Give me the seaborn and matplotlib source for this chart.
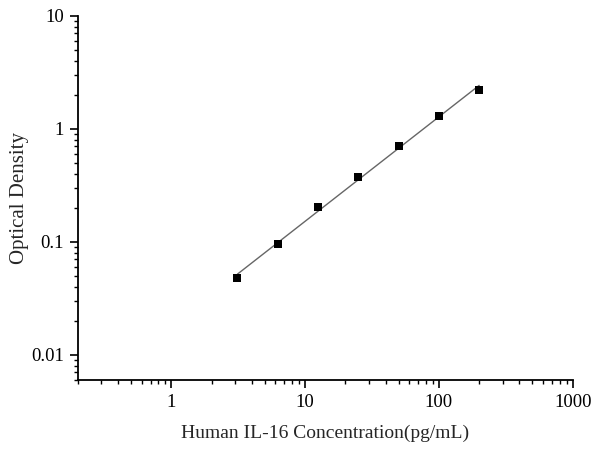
import numpy as np
import pandas as pd
import matplotlib
matplotlib.use("Agg")
import matplotlib.pyplot as plt
import seaborn as sns
from matplotlib.ticker import LogLocator, FixedLocator, FixedFormatter, NullFormatter

concentration = [3.125, 6.25, 12.5, 25, 50, 100, 200]
optical_density = [0.048, 0.095, 0.205, 0.373, 0.70, 1.30, 2.20]
x_ticks = [1, 10, 100, 1000]
x_tick_labels = ["1", "10", "100", "1000"]
y_ticks = [0.01, 0.1, 1, 10]
y_tick_labels = ["0.01", "0.1", "1", "10"]

sns.set_style("ticks")
plt.rcParams['font.family'] = ['Liberation Serif', 'DejaVu Serif']

df = pd.DataFrame({"conc": concentration, "od": optical_density})

fig = plt.figure(figsize=(6.0, 4.49), dpi=100)
ax = fig.add_axes([0.1295, 0.1537, 0.825, 0.8113])

# fitted curve (power-law fit in log space)
coef = np.polyfit(np.log10(df["conc"]), np.log10(df["od"]), 1)
xf = np.logspace(np.log10(min(concentration)), np.log10(max(concentration)), 100)
fit = pd.DataFrame({"conc": xf, "od": 10 ** np.polyval(coef, np.log10(xf))})
sns.lineplot(data=fit, x="conc", y="od", ax=ax, color="#666666", linewidth=1.0)
sns.scatterplot(data=df, x="conc", y="od", ax=ax, marker="s", s=36,
                color="black", edgecolor="black", linewidth=0, zorder=3)

ax.set_xscale("log")
ax.set_yscale("log")
ax.set_xlim(0.2, 1000)
ax.set_ylim(0.006, 10)

ax.xaxis.set_major_locator(FixedLocator(x_ticks))
ax.xaxis.set_major_formatter(FixedFormatter(x_tick_labels))
ax.yaxis.set_major_locator(FixedLocator(y_ticks))
ax.yaxis.set_major_formatter(FixedFormatter(y_tick_labels))
ax.xaxis.set_minor_locator(LogLocator(base=10, subs=np.arange(2, 10)))
ax.yaxis.set_minor_locator(LogLocator(base=10, subs=np.arange(2, 10)))
ax.xaxis.set_minor_formatter(NullFormatter())
ax.yaxis.set_minor_formatter(NullFormatter())

ax.tick_params(which="major", direction="out", length=6, width=1.2, labelsize=13.5, colors="black", pad=4)
ax.tick_params(which="minor", direction="out", length=3, width=1.0, colors="black")

for s in ["top", "right"]:
    ax.spines[s].set_visible(False)
for s in ["left", "bottom"]:
    ax.spines[s].set_linewidth(1.3)
    ax.spines[s].set_color("black")

ax.set_xlabel("Human IL-16 Concentration(pg/mL)", fontsize=14, labelpad=10)
ax.set_ylabel("Optical Density", fontsize=15, labelpad=1.5)

fig.savefig("out.png", dpi=100)
